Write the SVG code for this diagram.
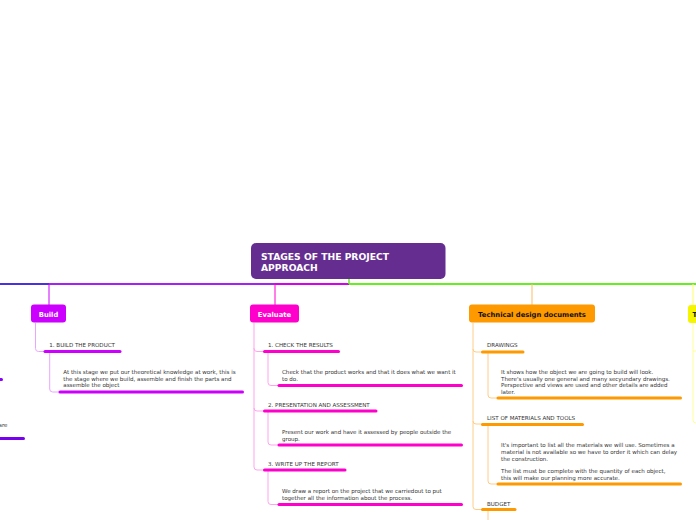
<svg xmlns="http://www.w3.org/2000/svg" width="696" height="520" viewBox="0 0 696 520">
<style>
.t{font-family:"DejaVu Sans",Verdana,sans-serif;font-size:5.55px;fill:#333}
.nt{font-family:"DejaVu Sans",Verdana,sans-serif;font-size:6.8px;font-weight:bold}
.c{fill:none;stroke-width:1}
.u{fill:none;stroke-width:3;stroke-linecap:round}
.pb{stroke:#e9a6ff}.pu{stroke:#cc00ff}
.eb{stroke:#ffa3ee}.eu{stroke:#ff00cc}
.ob{stroke:#ffcc88}.ou{stroke:#ff9900}
</style>
<rect width="696" height="520" fill="#fff"/>
<g id="connectors">
<path d="M0 284 H349" stroke="#4a30e0" stroke-width="2" fill="none"/>
<path d="M49 284 H349" stroke="#a520f2" stroke-width="2" fill="none"/>
<path d="M275 284 H349" stroke="#d400ee" stroke-width="2" fill="none"/>
<path d="M349 284 H696" stroke="#66ee22" stroke-width="2" fill="none"/>
<path d="M349 279 V284" stroke="#66ee22" stroke-width="1.5" fill="none"/>
<path d="M49 284 V305" stroke="#cc00ff" class="c"/>
<path d="M275 284 V305" stroke="#ff00cc" class="c"/>
<path d="M532 284 V305" stroke="#ffbb66" class="c"/>
<path d="M693 284 V305" stroke="#ffff66" class="c"/>
<!-- Build -->
<path class="c pb" d="M35.5 323 V348.5 Q35.5 351.5 38.5 351.5 H44"/>
<path class="c pb" d="M49.7 352 V389 Q49.7 392 52.7 392 H59"/>
<!-- Evaluate -->
<path class="c eb" d="M254 323 V348.5 Q254 351.5 257 351.5 H264"/>
<path class="c eb" d="M254 348 V408 Q254 411 257 411 H264"/>
<path class="c eb" d="M254 408 V467 Q254 470 257 470 H264"/>
<path class="c eb" d="M268 352 V382.5 Q268 385.5 271 385.5 H278"/>
<path class="c eb" d="M268 412 V442 Q268 445 271 445 H278"/>
<path class="c eb" d="M268 471 V501.5 Q268 504.5 271 504.5 H278"/>
<!-- Technical -->
<path class="c ob" d="M473 323 V349 Q473 352 476 352 H482"/>
<path class="c ob" d="M473 349 V421 Q473 424 476 424 H482"/>
<path class="c ob" d="M473 421 V506.5 Q473 509.5 476 509.5 H482"/>
<path class="c ob" d="M488 353 V395 Q488 398 491 398 H497"/>
<path class="c ob" d="M488 425 V481 Q488 484 491 484 H497"/>
<path class="c ob" d="M488 510 V520"/>
<!-- Yellow -->
<path class="c" stroke="#ffff99" d="M693 323 V420 Q693 423 696 423"/>
<path class="c" stroke="#ffff99" d="M693 351 H696"/>
</g>
<g id="root">
<rect x="251" y="243" width="194.5" height="36" rx="5" fill="#662d91"/>
<text x="261" y="259.5" font-family="DejaVu Sans,Verdana,sans-serif" font-size="9.2" font-weight="bold" fill="#fff">STAGES OF THE PROJECT</text>
<text x="261" y="270.5" font-family="DejaVu Sans,Verdana,sans-serif" font-size="9.2" font-weight="bold" fill="#fff">APPROACH</text>
</g>
<g id="left-edge">
<path class="u" stroke="#8a00ff" d="M-3 379.5 H1.5"/>
<text class="t" x="-1.5" y="427">are</text>
<path class="u" stroke="#7700ee" d="M-3 438.5 H23.5"/>
</g>
<g id="build">
<rect x="31" y="304.5" width="35" height="18" rx="3" fill="#cc00ff"/>
<text class="nt" x="48.5" y="316.5" text-anchor="middle" fill="#fff">Build</text>
</g>
<g id="build-product">
<text class="t" x="49.3" y="347">1. BUILD THE PRODUCT</text>
<path class="u pu" d="M45 351.5 H120"/>
</g>
<g id="build-desc">
<text class="t" x="63.3" y="374">At this stage we put our theoretical knowledge at work, this is</text>
<text class="t" x="63.3" y="380.5">the stage where we build, assemble and finish the parts and</text>
<text class="t" x="63.3" y="387">assemble the object</text>
<path class="u pu" d="M60 392 H242.5"/>
</g>
<g id="evaluate">
<rect x="250" y="304.5" width="49" height="18" rx="3" fill="#ff00cc"/>
<text class="nt" x="274.5" y="316.5" text-anchor="middle" fill="#fff">Evaluate</text>
</g>
<g id="check">
<text class="t" x="268" y="347">1. CHECK THE RESULTS</text>
<path class="u eu" d="M264.5 351.5 H338.5"/>
</g>
<g id="check-desc">
<text class="t" x="282" y="374">Check that the product works and that it does what we want it</text>
<text class="t" x="282" y="380.5">to do.</text>
<path class="u eu" d="M279 385.5 H461.5"/>
</g>
<g id="presentation">
<text class="t" x="268" y="407">2. PRESENTATION AND ASSESSMENT</text>
<path class="u eu" d="M264.5 411 H376"/>
</g>
<g id="presentation-desc">
<text class="t" x="282" y="434">Present our work and have it assessed by people outside the</text>
<text class="t" x="282" y="440.5">group.</text>
<path class="u eu" d="M279 445 H461.5"/>
</g>
<g id="report">
<text class="t" x="268" y="466">3. WRITE UP THE REPORT</text>
<path class="u eu" d="M264.5 470 H345"/>
</g>
<g id="report-desc">
<text class="t" x="282" y="493">We draw a report on the project that we carriedout to put</text>
<text class="t" x="282" y="500">together all the information about the process.</text>
<path class="u eu" d="M279 504.5 H461.5"/>
</g>
<g id="technical">
<rect x="469" y="304.5" width="126" height="18" rx="3" fill="#ff9900"/>
<text class="nt" x="532" y="316.5" text-anchor="middle" fill="#111">Technical design documents</text>
</g>
<g id="drawings">
<text class="t" x="487" y="347">DRAWINGS</text>
<path class="u ou" d="M482.5 352 H523"/>
</g>
<g id="drawings-desc">
<text class="t" x="501" y="374">It shows how the object we are going to build will look.</text>
<text class="t" x="501" y="380.5">There's usually one general and many secyundary drawings.</text>
<text class="t" x="501" y="387">Perspective and views are used and other details are added</text>
<text class="t" x="501" y="394">later.</text>
<path class="u ou" d="M498 398 H680.5"/>
</g>
<g id="materials">
<text class="t" x="487" y="420">LIST OF MATERIALS AND TOOLS</text>
<path class="u ou" d="M482.5 424.5 H582.5"/>
</g>
<g id="materials-desc">
<text class="t" x="501" y="447">It's important to list all the materials we will use. Sometimes a</text>
<text class="t" x="501" y="453.5">material is not available so we have to order it which can delay</text>
<text class="t" x="501" y="460.5">the construction.</text>
<text class="t" x="501" y="473">The list must be complete with the quantity of each object,</text>
<text class="t" x="501" y="479.5">this will make our planning more accurate.</text>
<path class="u ou" d="M498 484 H680.5"/>
</g>
<g id="budget">
<text class="t" x="487" y="505.5">BUDGET</text>
<path class="u ou" d="M482.5 509.5 H515"/>
</g>
<g id="yellow">
<rect x="688" y="305" width="20" height="18" rx="3" fill="#f5f500"/>
<text class="nt" x="692.5" y="316.5" fill="#111">T</text>
</g>
</svg>
